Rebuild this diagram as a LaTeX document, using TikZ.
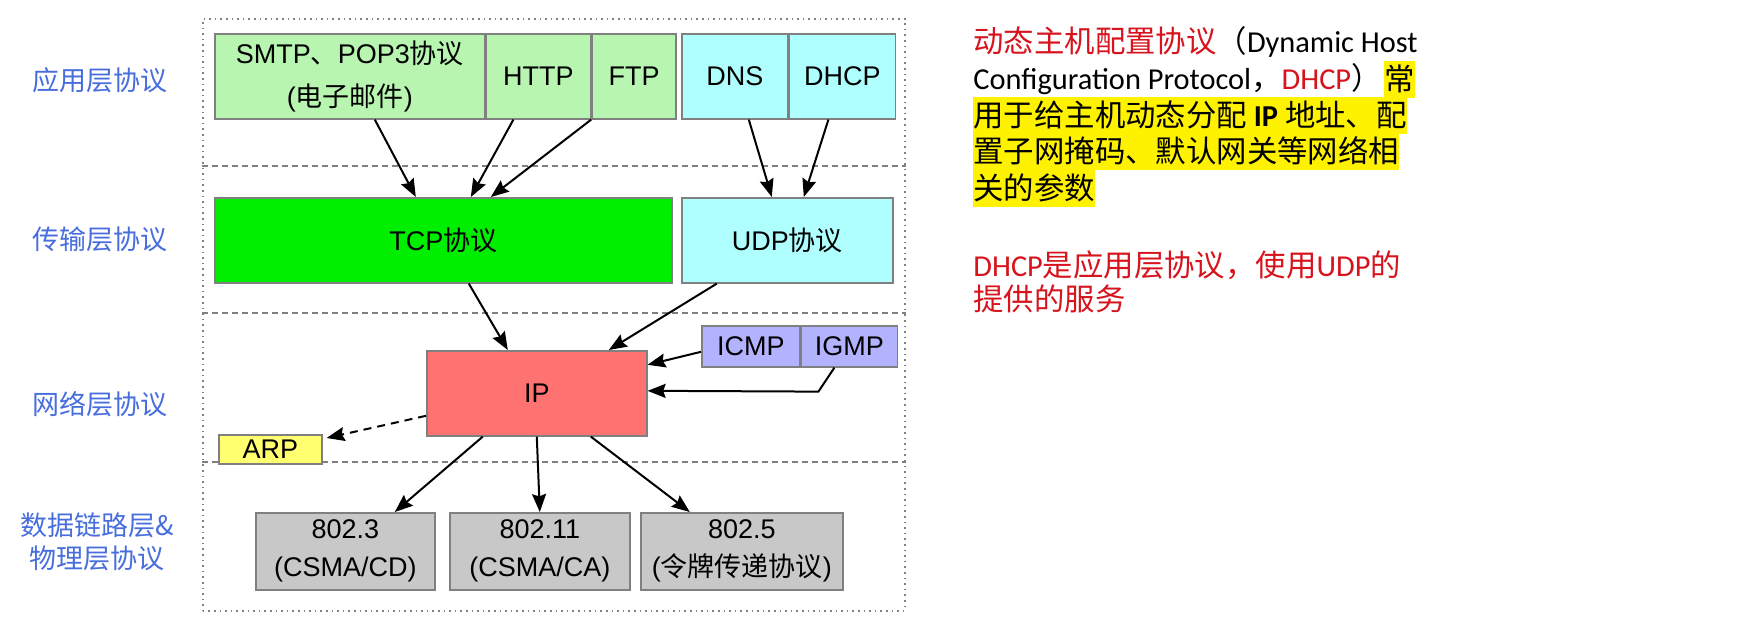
\documentclass[tikz,border=0pt]{standalone}
\usepackage{fontspec}
\setmainfont{Liberation Sans}
\newfontfamily\cjk{Noto Sans CJK SC}
\newfontfamily\notefont{Carlito}
\usepackage{xcolor}
\usetikzlibrary{arrows.meta,positioning}

\definecolor{appgreen}{RGB}{183,245,176}
\definecolor{udpcyan}{RGB}{176,255,255}
\definecolor{tcpgreen}{RGB}{0,238,0}
\definecolor{ipred}{RGB}{255,114,114}
\definecolor{icmpblue}{RGB}{178,178,255}
\definecolor{arpyellow}{RGB}{255,255,112}
\definecolor{macgray}{RGB}{200,200,200}
\definecolor{edgegray}{RGB}{128,128,128}
\definecolor{layerblue}{RGB}{72,110,222}
\definecolor{notered}{RGB}{215,20,30}

\begin{document}
\begin{tikzpicture}[
        x=0.5pt, y=-0.5pt,
        cell/.style={rectangle, draw=edgegray, line width=0.8pt, inner sep=0pt, align=center, font=\fontsize{13.5}{21.5}\selectfont},
        macbox/.style={cell, fill=macgray, minimum height=38.5pt, font=\fontsize{13.5}{19}\selectfont},
        layer/.style={align=center, text=layerblue, font=\cjk\fontsize{13.5}{16.5}\selectfont},
        note/.style={anchor=west, inner xsep=0pt, inner ysep=0pt, minimum height=18.5pt, font=\notefont\fontsize{15.2}{18.5}\selectfont},
        frame/.style={draw=edgegray, dotted, line width=0.8pt, inner sep=0pt},
        sep/.style={draw=edgegray, dash pattern=on 3pt off 2pt, line width=0.9pt},
        arrow/.style={-{Stealth[length=9pt,width=7pt,inset=1.2pt]}, line width=1pt}
    ]
        \fill[white] (0,0) rectangle (1737,623);
        \useasboundingbox (0,0) rectangle (1737,623);

        % Frame and layer separators
        \node[frame, minimum width=351pt, minimum height=296pt, anchor=north west] (frame) at (202,18) {};
        \draw[sep] (frame.west |- 0,166) -- (frame.east |- 0,166);
        \draw[sep] (frame.west |- 0,313) -- (frame.east |- 0,313);
        \draw[sep] (frame.west |- 0,462) -- (frame.east |- 0,462);

        % Layer names
        \node[layer] (lapp) at (100,80) {应用层协议};
        \node[layer] (ltrans) at (100,239) {传输层协议};
        \node[layer] (lnet) at (100,404) {网络层协议};
        \node[layer] (llink) at (97,542) {数据链路层\&\\物理层协议};

        % Application layer
        \node[cell, fill=appgreen, minimum width=135pt, minimum height=42.5pt, anchor=north west] (smtp) at (214,33) {SMTP{\cjk 、}POP3{\cjk 协议}\\({\cjk 电子邮件})};
        \node[cell, fill=appgreen, minimum width=52pt, minimum height=42.5pt, right=0pt of smtp] (http) {HTTP};
        \node[cell, fill=appgreen, minimum width=42pt, minimum height=42.5pt, right=0pt of http] (ftp) {FTP};
        \node[cell, fill=udpcyan, minimum width=53pt, minimum height=42.5pt, anchor=north west] (dns) at (681,33) {DNS};
        \node[cell, fill=udpcyan, minimum width=53pt, minimum height=42.5pt, right=0pt of dns] (dhcp) {DHCP};

        % Transport layer
        \node[cell, fill=tcpgreen, minimum width=228.5pt, minimum height=42.5pt, anchor=north west] (tcp) at (214,197) {TCP{\cjk 协议}};
        \node[cell, fill=udpcyan, minimum width=105.5pt, minimum height=42.5pt, anchor=north west] (udp) at (681,197) {UDP{\cjk 协议}};

        % Network layer
        \node[cell, fill=ipred, minimum width=110pt, minimum height=42.5pt, anchor=north west] (ip) at (426,350) {IP};
        \node[cell, fill=icmpblue, minimum width=49pt, minimum height=20.5pt, anchor=north west] (icmp) at (701,325) {ICMP};
        \node[cell, fill=icmpblue, minimum width=48pt, minimum height=20.5pt, right=0pt of icmp] (igmp) {IGMP};
        \node[cell, fill=arpyellow, minimum width=51.5pt, minimum height=14.5pt, anchor=north west] (arp) at (218,434) {ARP};

        % Link layer
        \node[macbox, minimum width=89.5pt, anchor=north west] (e8023) at (255,512) {802.3\\(CSMA/CD)};
        \node[macbox, minimum width=90pt, anchor=north west] (e80211) at (449,512) {802.11\\(CSMA/CA)};
        \node[macbox, minimum width=101pt, anchor=north west] (e8025) at (640,512) {802.5\\({\cjk 令牌传递协议})};

        % Arrows
        \draw[arrow] ([xshift=12.5pt]smtp.south) -- ([xshift=-13.75pt]tcp.north);
        \draw[arrow] ([xshift=-12.5pt]http.south) -- ([xshift=13.75pt]tcp.north);
        \draw[arrow] (ftp.south west) -- ([xshift=23.75pt]tcp.north);
        \draw[arrow] ([xshift=7pt]dns.south) -- ([xshift=-7.75pt]udp.north);
        \draw[arrow] ([xshift=-7pt]dhcp.south) -- ([xshift=8.25pt]udp.north);
        \draw[arrow] ([xshift=12.75pt]tcp.south) -- ([xshift=-14.5pt]ip.north);
        \draw[arrow] ([xshift=-35.25pt]udp.south) -- ([xshift=36pt]ip.north);
        \draw[arrow] ([yshift=-2.75pt]icmp.west) -- ([yshift=14.25pt]ip.east);
        \draw[arrow] ([xshift=-7.5pt]igmp.south) -- ++(-16,24) -- ([yshift=1.25pt]ip.east);
        \draw[arrow, dash pattern=on 4pt off 3pt] ([yshift=-11.25pt]ip.west) -- ([xshift=2pt,yshift=-2pt]arp.north east);
        \draw[arrow] ([xshift=-27pt]ip.south) -- ([xshift=24.75pt]e8023.north);
        \draw[arrow] (ip.south) -- (e80211.north);
        \draw[arrow] ([xshift=27pt]ip.south) -- ([xshift=-26pt]e8025.north);

        % Note on DHCP
        \node[note] (n1) at (973,42) {\textcolor{notered}{\cjk 动态主机配置协议}{\cjk （}Dynamic Host};
        \node[note] (n2) at (973,79) {Configuration Protocol{\cjk ，}\textcolor{notered}{DHCP}{\cjk ）}};
        \node[note, fill=yellow, right=1pt of n2] (n2b) {\cjk 常};
        \node[note, fill=yellow] (n3) at (973,115) {{\cjk 用于给主机动态分配} \textbf{IP} {\cjk 地址、配}};
        \node[note, fill=yellow] (n4) at (973,151) {\cjk 置子网掩码、默认网关等网络相};
        \node[note, fill=yellow] (n5) at (973,188) {\cjk 关的参数};
        \node[note, text=notered] (n6) at (973,265) {DHCP{\cjk 是应用层协议，使用}UDP{\cjk 的}};
        \node[note, text=notered] (n7) at (973,299) {\cjk 提供的服务};
\end{tikzpicture}
\end{document}
